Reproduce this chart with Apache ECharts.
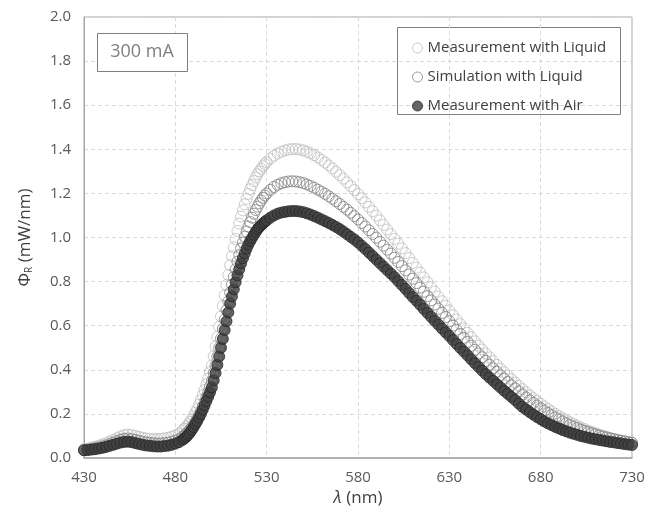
<!DOCTYPE html>
<html><head><meta charset="utf-8">
<script src="https://cdn.jsdelivr.net/npm/echarts@6/dist/echarts.min.js"></script>
<style>html,body{margin:0;padding:0;background:#fff}#c{width:648px;height:513px}</style>
</head><body><div id="c"></div>
<script>
const wavelengths = [430,432,434,436,438,440,442,444,446,448,450,452,454,456,458,460,462,464,466,468,470,472,474,476,478,480,482,484,
485,486,487,488,489,490,491,492,493,494,495,496,497,498,499,500,501,502,503,504,505,506,507,508,509,510,511,512,513,514,515,516,517,518,519,520,521,522,523,524,525,526,527,528,529,530,
532,534,536,538,540,542,544,546,548,550,552,554,556,558,560,562,564,566,568,570,572,574,576,578,580,582,584,586,588,590,592,594,596,598,600,602,604,606,608,610,612,614,616,618,620,622,624,626,628,630,632,634,636,638,640,642,644,646,648,650,652,654,656,658,660,662,664,666,668,670,672,674,676,678,680,682,684,686,688,690,692,694,696,698,700,702,704,706,708,710,712,714,716,718,720,722,724,726,728,730];
const measLiquid = [0.040,0.043,0.047,0.051,0.056,0.061,0.067,0.074,0.082,0.090,0.098,0.104,0.106,0.104,0.100,0.096,0.092,0.089,0.087,0.086,0.086,0.087,0.089,0.092,0.097,0.103,0.112,0.125,
0.133,0.142,0.152,0.163,0.176,0.190,0.206,0.222,0.242,0.262,0.285,0.308,0.334,0.360,0.390,0.420,0.462,0.505,0.550,0.595,0.642,0.690,0.738,0.785,0.830,0.875,0.915,0.955,0.993,1.030,1.063,1.095,1.123,1.150,1.175,1.198,1.219,1.238,1.256,1.272,1.287,1.300,1.312,1.323,1.333,1.342,
1.358,1.371,1.381,1.389,1.395,1.399,1.401,1.401,1.399,1.395,1.389,1.382,1.373,1.363,1.352,1.340,1.327,1.313,1.298,1.283,1.267,1.250,1.233,1.215,1.197,1.178,1.159,1.139,1.119,1.099,1.078,1.057,1.036,1.015,0.994,0.972,0.951,0.929,0.907,0.885,0.863,0.841,0.819,0.797,0.775,0.754,0.732,0.711,0.690,0.669,0.648,0.628,0.607,0.587,0.568,0.548,0.529,0.510,0.492,0.474,0.456,0.439,0.422,0.405,0.389,0.373,0.357,0.342,0.327,0.312,0.298,0.284,0.271,0.258,0.246,0.234,0.222,0.211,0.200,0.190,0.180,0.171,0.162,0.154,0.146,0.138,0.131,0.124,0.118,0.112,0.106,0.101,0.096,0.091,0.087,0.083,0.079,0.075,0.072,0.069];
const simLiquid = [0.036,0.038,0.041,0.044,0.048,0.052,0.057,0.063,0.070,0.077,0.083,0.087,0.088,0.086,0.082,0.078,0.074,0.071,0.069,0.067,0.066,0.066,0.068,0.070,0.074,0.079,0.086,0.096,
0.103,0.110,0.119,0.128,0.139,0.150,0.164,0.178,0.195,0.212,0.232,0.252,0.275,0.298,0.324,0.350,0.385,0.420,0.460,0.500,0.542,0.585,0.628,0.670,0.710,0.750,0.786,0.822,0.856,0.890,0.920,0.950,0.977,1.004,1.027,1.050,1.070,1.090,1.108,1.125,1.140,1.155,1.168,1.180,1.190,1.200,
1.216,1.229,1.239,1.246,1.251,1.254,1.255,1.254,1.251,1.247,1.241,1.234,1.226,1.217,1.208,1.198,1.187,1.176,1.164,1.152,1.139,1.126,1.112,1.097,1.082,1.066,1.050,1.033,1.016,0.999,0.981,0.963,0.945,0.927,0.908,0.889,0.870,0.851,0.832,0.813,0.793,0.773,0.754,0.734,0.715,0.696,0.677,0.658,0.639,0.620,0.601,0.582,0.563,0.545,0.527,0.509,0.491,0.474,0.457,0.440,0.423,0.407,0.391,0.375,0.360,0.345,0.330,0.316,0.302,0.288,0.275,0.262,0.250,0.238,0.226,0.215,0.204,0.194,0.184,0.175,0.166,0.158,0.150,0.143,0.136,0.129,0.123,0.117,0.112,0.107,0.102,0.097,0.093,0.089,0.085,0.081,0.078,0.075,0.072,0.069];
const measAir = [0.035,0.036,0.038,0.040,0.043,0.046,0.050,0.055,0.060,0.065,0.070,0.073,0.074,0.072,0.068,0.064,0.060,0.057,0.055,0.053,0.052,0.052,0.054,0.056,0.060,0.065,0.072,0.082,
0.089,0.096,0.105,0.115,0.127,0.140,0.154,0.168,0.184,0.200,0.219,0.238,0.258,0.278,0.298,0.320,0.352,0.385,0.422,0.460,0.500,0.540,0.580,0.620,0.660,0.700,0.733,0.765,0.797,0.828,0.856,0.882,0.906,0.928,0.949,0.968,0.984,0.998,1.012,1.025,1.037,1.047,1.056,1.064,1.071,1.078,
1.090,1.100,1.108,1.113,1.116,1.119,1.120,1.120,1.118,1.115,1.110,1.104,1.097,1.090,1.082,1.074,1.066,1.057,1.048,1.038,1.027,1.015,1.003,0.991,0.978,0.963,0.948,0.932,0.916,0.900,0.884,0.868,0.852,0.836,0.820,0.802,0.785,0.767,0.748,0.730,0.713,0.695,0.676,0.658,0.640,0.622,0.605,0.587,0.570,0.553,0.535,0.517,0.499,0.482,0.465,0.447,0.430,0.413,0.396,0.380,0.365,0.350,0.335,0.320,0.305,0.291,0.277,0.263,0.247,0.232,0.220,0.208,0.197,0.186,0.176,0.166,0.157,0.149,0.141,0.134,0.127,0.121,0.115,0.110,0.105,0.100,0.096,0.092,0.088,0.085,0.082,0.079,0.076,0.073,0.071,0.068,0.066,0.063,0.061,0.059];
const seriesNames = ['Measurement with Liquid','Simulation with Liquid','Measurement with Air'];
const annotation = '300 mA';

function pairs(ys){ return wavelengths.map((x,i)=>[x, ys[i]]); }
const FONT = 'Open Sans';
const chart = echarts.init(document.getElementById('c'), null, {renderer:'canvas'});
const styles = [
  {color:'rgba(255,255,255,0)', borderColor:'#bdbdbd', borderWidth:1},
  {color:'rgba(255,255,255,0)', borderColor:'#808080', borderWidth:1},
  {color:'#404040', borderColor:'#262626', borderWidth:1}
];
const dataSets = [measLiquid, simLiquid, measAir];
chart.setOption({
  animation:false,
  textStyle:{fontFamily:FONT},
  grid:{left:84,right:16,top:17,bottom:55,show:true,borderColor:'#a6a6a6',borderWidth:1,backgroundColor:'transparent'},
  xAxis:{type:'value',min:430,max:730,interval:50,
    name:'{i|λ} (nm)',nameLocation:'middle',nameGap:32,
    nameTextStyle:{fontFamily:FONT,fontSize:17,color:'#404040',rich:{i:{fontStyle:'italic',fontSize:17,color:'#404040',fontFamily:FONT}}},
    axisLine:{lineStyle:{color:'#a6a6a6',width:1.5}},axisTick:{show:false},
    axisLabel:{fontSize:15,color:'#595959',margin:12,fontFamily:FONT},
    splitLine:{show:true,lineStyle:{color:'#d9d9d9',type:[4,3],width:1}}},
  yAxis:{type:'value',min:0,max:2,interval:0.2,
    name:'{a|Φ}{s|R}{a| (mW/nm)}',nameLocation:'middle',nameGap:50,
    nameTextStyle:{fontFamily:FONT,color:'#404040',rich:{a:{fontSize:17,color:'#404040',fontFamily:FONT},s:{fontSize:10,color:'#404040',fontFamily:FONT,padding:[8,0,0,0]}}},
    axisLine:{show:true,lineStyle:{color:'#a6a6a6',width:1}},axisTick:{show:false},
    axisLabel:{fontSize:15,color:'#595959',margin:13,fontFamily:FONT,formatter:v=>v.toFixed(1)},
    splitLine:{show:true,lineStyle:{color:'#d9d9d9',type:[4,3],width:1}}},
  legend:{orient:'vertical',left:407,top:35,itemWidth:10,itemHeight:10,itemGap:13,itemTextGap:6,
    textStyle:{fontSize:15,color:'#404040',fontFamily:FONT,lineHeight:16},
    data:seriesNames.map((n,i)=>({name:n,icon:'circle',itemStyle:styles[i]}))},
  graphic:[
    {type:'rect',shape:{x:397.5,y:27.5,width:223,height:87},style:{fill:'#fff',stroke:'#7f7f7f',lineWidth:1},z:-1},
    {type:'rect',shape:{x:97.5,y:33.5,width:90,height:38},style:{fill:'#fff',stroke:'#7f7f7f',lineWidth:1},z:100},
    {type:'text',x:142,y:52,style:{text:annotation,fill:'#7f7f7f',font:'18px "Open Sans"',textAlign:'center',textVerticalAlign:'middle'},z:101}
  ],
  series:dataSets.map((d,i)=>({name:seriesNames[i],type:'scatter',symbol:'circle',symbolSize:11,
    data:pairs(d),itemStyle:styles[i],z:2+i,emphasis:{disabled:true}}))
});
</script></body></html>
